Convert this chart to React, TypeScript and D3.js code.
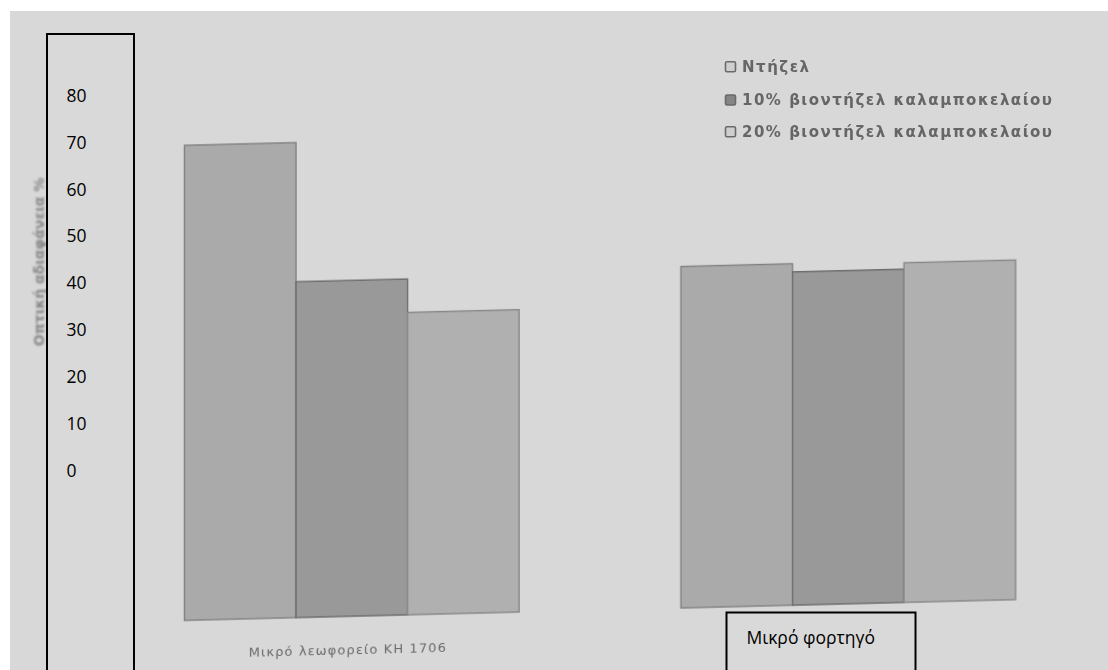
import React from "react";
import * as d3 from "d3";

// Categories and series
const categories = ["Μικρό λεωφορείο ΚΗ 1706", "Μικρό φορτηγό"];
const seriesNames = [
  "Ντήζελ",
  "10% βιοντήζελ καλαμποκελαίου",
  "20% βιοντήζελ καλαμποκελαίου",
];

// Optical opacity (%) per category, one array per series
const dieselValues = [75.4, 54.2];
const bio10Values = [53.3, 52.9];
const bio20Values = [48.0, 53.9];

// Tick labels of the value column
const yTickLabels = [0, 10, 20, 30, 40, 50, 60, 70, 80];

const seriesValues = [dieselValues, bio10Values, bio20Values];

const barFill = ["#aaaaaa", "#999999", "#b0b0b0"];
const barStroke = ["#808080", "#6a6a6a", "#868686"];
const swatchFill = ["#cfcfcf", "#858585", "#cfcfcf"];

export default function App() {
  const W = 1108;
  const H = 670;
  // slight slant of the printed page
  const k = 0.025;
  const x0 = 160;

  const x = d3
    .scaleBand<string>()
    .domain(categories)
    .range([103.5, 1096.5])
    .paddingInner(0.326)
    .paddingOuter(0.163);
  const xs = d3
    .scaleBand<string>()
    .domain(seriesNames)
    .range([0, x.bandwidth()])
    .padding(0);
  const y = d3.scaleLinear().domain([0, 80]).range([621, 117]);
  const tickY = d3.scaleLinear().domain([0, 80]).range([471, 95.5]);

  const bars = categories.flatMap((c, ci) =>
    seriesNames.map((s, si) => ({ c, s, si, v: seriesValues[si][ci] }))
  );

  return (
    <svg
      width={W}
      height={H}
      style={{ position: "absolute", left: 0, top: 0, display: "block" }}
    >
      <defs>
        <filter id="soft" x="-5%" y="-5%" width="110%" height="110%">
          <feGaussianBlur stdDeviation="0.6" />
        </filter>
        <filter id="softText" x="-5%" y="-20%" width="110%" height="140%">
          <feGaussianBlur stdDeviation="0.75" />
        </filter>
        <filter id="softTitle" x="-20%" y="-5%" width="140%" height="110%">
          <feGaussianBlur stdDeviation="1.1" />
        </filter>
      </defs>

      <rect x={0} y={0} width={W} height={H} fill="#ffffff" />
      <rect x={10} y={11} width={W - 10} height={H - 11} fill="#d8d8d8" />

      {/* printed bars */}
      <g transform={`matrix(1,${-k},0,1,0,${k * x0})`}>
        <g filter="url(#soft)">
          {bars.map((b) => (
            <rect
              key={b.c + b.s}
              x={(x(b.c) ?? 0) + (xs(b.s) ?? 0)}
              y={y(b.v)}
              width={xs.bandwidth()}
              height={y(0) - y(b.v)}
              fill={barFill[b.si]}
              stroke={barStroke[b.si]}
              strokeWidth={1.4}
            />
          ))}
        </g>
        <g filter="url(#softText)">
          {categories.map((c) => (
            <text
              key={c}
              x={(x(c) ?? 0) + x.bandwidth() / 2 - 4}
              y={y(0) + 38}
              textAnchor="middle"
              fontFamily="DejaVu Sans"
              fontSize={13}
              letterSpacing={1.1}
              fill="#6a6a6a"
            >
              {c}
            </text>
          ))}
        </g>
      </g>

      {/* legend */}
      <g filter="url(#softText)">
        {seriesNames.map((s, i) => {
          const cy = [66.7, 100, 131.7][i];
          return (
            <g key={s}>
              <rect
                x={725.5}
                y={cy - 5}
                width={10}
                height={10}
                rx={1.5}
                fill={swatchFill[i]}
                stroke="#6a6a6a"
                strokeWidth={1.6}
              />
              <text
                x={742}
                y={cy}
                dy="0.36em"
                fontFamily="DejaVu Sans"
                fontWeight="bold"
                fontSize={15}
                letterSpacing={1.5}
                fill="#666666"
              >
                {s}
              </text>
            </g>
          );
        })}
      </g>

      {/* axis title */}
      <text
        transform="translate(39,262) rotate(-90)"
        textAnchor="middle"
        dy="0.35em"
        fontFamily="DejaVu Sans"
        fontWeight="bold"
        fontSize={14}
        fill="#868686"
        filter="url(#softTitle)"
      >
        Οπτική αδιαφάνεια %
      </text>

      {/* value column */}
      <rect
        x={47}
        y={34}
        width={87}
        height={700}
        fill="#d9d9d9"
        stroke="#000"
        strokeWidth={2}
      />
      {yTickLabels.map((t) => (
        <text
          key={t}
          x={66.5}
          y={tickY(t)}
          dy="0.35em"
          fontFamily="Open Sans"
          fontSize={17.5}
          fill="#000"
        >
          {t}
        </text>
      ))}

      {/* category box */}
      <rect
        x={726.5}
        y={612.5}
        width={189}
        height={100}
        fill="#d9d9d9"
        stroke="#000"
        strokeWidth={2}
      />
      <text
        x={746.5}
        y={643.5}
        fontFamily="Open Sans"
        fontSize={17.5}
        fill="#000"
      >
        {categories[1]}
      </text>
    </svg>
  );
}
